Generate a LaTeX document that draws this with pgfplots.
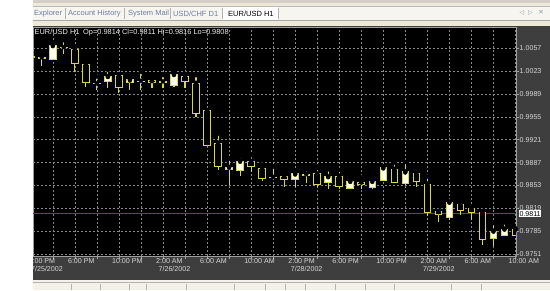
\documentclass[border=0pt]{standalone}
\usepackage{fontspec}
\setmainfont{Liberation Sans}
\newfontfamily\dv{DejaVu Sans}
\usepackage{pgfplots}
\usepackage{pgfplotstable}
\pgfplotsset{compat=1.18}

\definecolor{candle}{RGB}{214,214,80}
\definecolor{bullfill}{RGB}{255,255,238}
\definecolor{framec}{RGB}{62,62,62}
\definecolor{gridc}{RGB}{135,135,135}
\definecolor{lbl}{RGB}{215,215,215}
\definecolor{bidline}{RGB}{40,95,95}
\definecolor{tabbg}{RGB}{236,233,216}
\definecolor{tabrow}{RGB}{246,245,240}
\definecolor{tabtext}{RGB}{110,125,160}
\definecolor{winc}{RGB}{212,208,200}

\pgfplotstableread{
i o h l c
0 1.0044 1.0048 1.0040 1.0045
1 1.0042 1.0050 1.0030 1.0043
2 1.0041 1.0063 1.0040 1.0061
3 1.0058 1.0069 1.0048 1.0058
4 1.0055 1.0058 1.0022 1.0035
5 1.0033 1.0036 1.0000 1.0006
6 1.0004 1.0015 0.9995 1.0004
7 1.0007 1.0025 0.9998 1.0015
8 1.0017 1.0018 0.9990 0.9998
9 1.0006 1.0014 0.9995 1.0010
10 1.0007 1.0022 0.9995 1.0008
11 1.0009 1.0010 0.9998 1.0006
12 1.0006 1.0017 0.9998 1.0007
13 1.0002 1.0021 1.0000 1.0018
14 1.0015 1.0019 0.9998 1.0007
15 1.0005 1.0017 0.9955 0.9960
16 0.9964 0.9965 0.9911 0.9913
17 0.9916 0.9930 0.9876 0.9881
18 0.9876 0.9893 0.9854 0.9880
19 0.9875 0.9896 0.9867 0.9889
20 0.9889 0.9898 0.9873 0.9881
21 0.9878 0.9884 0.9860 0.9864
22 0.9865 0.9881 0.9862 0.9865
23 0.9867 0.9871 0.9850 0.9862
24 0.9862 0.9873 0.9851 0.9870
25 0.9868 0.9877 0.9857 0.9869
26 0.9870 0.9879 0.9851 0.9855
27 0.9857 0.9877 0.9848 0.9866
28 0.9867 0.9876 0.9847 0.9851
29 0.9849 0.9862 0.9847 0.9859
30 0.9858 0.9865 0.9847 0.9855
31 0.9850 0.9865 0.9847 0.9859
32 0.9860 0.9881 0.9859 0.9879
33 0.9877 0.9887 0.9856 0.9858
34 0.9856 0.9888 0.9854 0.9873
35 0.9871 0.9878 0.9851 0.9859
36 0.9855 0.9866 0.9808 0.9812
37 0.9814 0.9815 0.9798 0.9809
38 0.9806 0.9829 0.9802 0.9828
39 0.9825 0.9830 0.9809 0.9816
40 0.9818 0.9821 0.9802 0.9812
41 0.9812 0.9815 0.9764 0.9773
42 0.9774 0.9797 0.9763 0.9785
43 0.9779 0.9798 0.9778 0.9788
44 0.9788 0.9789 0.9778 0.9779
}\candles

\begin{document}
\begin{tikzpicture}[x=1pt,y=1pt]
\path[use as bounding box] (0,0) rectangle (550,290);
\fill[white] (0,0) rectangle (550,290);
% window top
\fill[winc] (33,287) rectangle (550,290);
\fill[tabbg] (33,263.5) rectangle (550,287);
\fill[tabrow] (33,269.5) rectangle (550,283.5);
\draw[gray!55,line width=0.6] (33,283.5) -- (550,283.5);
\draw[gray!70,line width=0.6] (33,269.5) -- (550,269.5);
\fill[white] (223,270) rectangle (278,283);
\foreach \sx in {65,124,170,222,278}{\draw[gray!60,line width=0.6] (\sx,271) -- (\sx,282);}
\begin{scope}[every node/.style={anchor=west,inner sep=0pt,font=\fontsize{7.5}{8}\selectfont}]
\node[text=tabtext] at (34,276.5) {Explorer};
\node[text=tabtext] at (68,276.5) {Account History};
\node[text=tabtext] at (128,276.5) {System Mail};
\node[text=tabtext] at (173,276.5) {USD/CHF D1};
\node[text=black] at (228,276.5) {EUR/USD H1};
\end{scope}
\node[text=tabtext!80,font=\dv\fontsize{6}{7}\selectfont,inner sep=0pt] at (522,277.5) {◁};
\node[text=tabtext!80,font=\dv\fontsize{6}{7}\selectfont,inner sep=0pt] at (530.5,277.5) {▷};
\node[text=tabtext!80,font=\dv\fontsize{6.5}{7}\selectfont,inner sep=0pt] at (541,277.5) {✕};
% dark frame
\fill[framec] (33,10) rectangle (550,263.5);
% bottom strip
\fill[tabbg!60!white] (33,0) rectangle (550,10);
\draw[gray!60,line width=0.6] (33,8) -- (550,8);
\foreach \sx in {71.7,100,129.3,146.7,186.7,234,265,285,305,335,365,394,451.7,481.7}{\draw[gray!60,line width=0.6] (\sx,0) -- (\sx,6.5);}

\begin{axis}[
  at={(33pt,34pt)}, anchor=south west,
  scale only axis, width=483pt, height=229pt,
  xmin=0.2, xmax=44.05, ymin=0.9748, ymax=1.00887,
  axis background/.style={fill=black},
  axis line style={draw=gray!75, line width=0.8pt},
  xtick={4,8,...,44},
  minor xtick={2,6,...,42},
  xticklabels={{6:00 PM},{10:00 PM},{2:00 AM\\\hspace*{2.5pt}7/26/2002},{6:00 AM},{10:00 AM},{2:00 PM\\\hspace*{2.5pt}7/28/2002},{6:00 PM},{10:00 PM},{2:00 AM\\\hspace*{2.5pt}7/29/2002},{6:00 AM},{10:00 AM}},
  ytick={0.9751,0.9785,0.9819,0.9853,0.9887,0.9921,0.9955,0.9989,1.0023,1.0057},
  yticklabels={0.9751,0.9785,0.9819,0.9853,0.9887,0.9921,0.9955,0.9989,1.0023,1.0057},
  xtick pos=bottom, ytick pos=right, yticklabel pos=right,
  tick align=outside, major tick length=3pt, minor tick length=3pt,
  tick style={draw=gray!75, line width=0.6pt},
  minor tick style={draw=gray!75, line width=0.6pt},
  grid=both,
  major grid style={draw=gridc, line width=0.6pt, dash pattern=on 2pt off 2pt},
  minor grid style={draw=gridc, line width=0.6pt, dash pattern=on 2pt off 2pt},
  xticklabel style={anchor=north west, xshift=-7pt, yshift=1pt, inner sep=0pt, align=left, text=lbl, font=\fontsize{7.1}{8.5}\selectfont},
  yticklabel style={anchor=west, xshift=0.5pt, inner sep=0pt, text=lbl, font=\fontsize{7.1}{8}\selectfont},
  clip=true,
]
% bid line
\addplot[bidline, line width=0.9pt, forget plot] coordinates {(0.2,0.9811) (44.05,0.9811)};
% wicks
\addplot[only marks, mark=none, forget plot,
  error bars/.cd, y dir=minus, y explicit, error mark=none,
  error bar style={draw=candle, line width=1.1pt}]
  table[x=i, y=h, y error expr=\thisrow{h}-\thisrow{l}] {\candles};
% body outline
\addplot[only marks, mark=none, forget plot,
  error bars/.cd, y dir=minus, y explicit, error mark=none,
  error bar style={draw=candle, line width=7.5pt}]
  table[x=i, y expr={max(\thisrow{o},\thisrow{c})+0.0000744}, y error expr={abs(\thisrow{o}-\thisrow{c})+0.0001488}] {\candles};
% bull inner
\addplot[only marks, mark=none, forget plot,
  restrict expr to domain={\thisrow{c}-\thisrow{o}}{0.0002:1},
  error bars/.cd, y dir=minus, y explicit, error mark=none,
  error bar style={draw=bullfill, line width=5.5pt}]
  table[x=i, y expr={\thisrow{c}-0.0000744}, y error expr={\thisrow{c}-\thisrow{o}-0.0001488}] {\candles};
% bear inner
\addplot[only marks, mark=none, forget plot,
  restrict expr to domain={\thisrow{o}-\thisrow{c}}{0.0002:1},
  error bars/.cd, y dir=minus, y explicit, error mark=none,
  error bar style={draw=black, line width=5.5pt}]
  table[x=i, y expr={\thisrow{o}-0.0000744}, y error expr={\thisrow{o}-\thisrow{c}-0.0001488}] {\candles};
\end{axis}
% header
\node[anchor=west, inner sep=0pt, text=white!92!black, font=\fontsize{7.4}{8}\selectfont] at (34.5,257.5) {EUR/USD H1\enspace Op=0.9814 Cl=0.9811 Hi=0.9816 Lo=0.9808};
% first (cut) time label
\node[anchor=north west, inner sep=0pt, align=left, text=lbl, font=\fontsize{7.1}{8.5}\selectfont] at (28.5,32) {2:00 PM\\\hspace*{2.5pt}7/25/2002};
\draw[gray!75, line width=0.6pt] (30.7,34) -- (30.7,31);
% bid price label
\node[anchor=west, fill=white, text=black, inner sep=0.8pt, font=\fontsize{7.1}{8}\selectfont] at (518.5,76.4) {0.9811};
% cover left margin
\fill[white] (0,0) rectangle (33,290);
\end{tikzpicture}
\end{document}
